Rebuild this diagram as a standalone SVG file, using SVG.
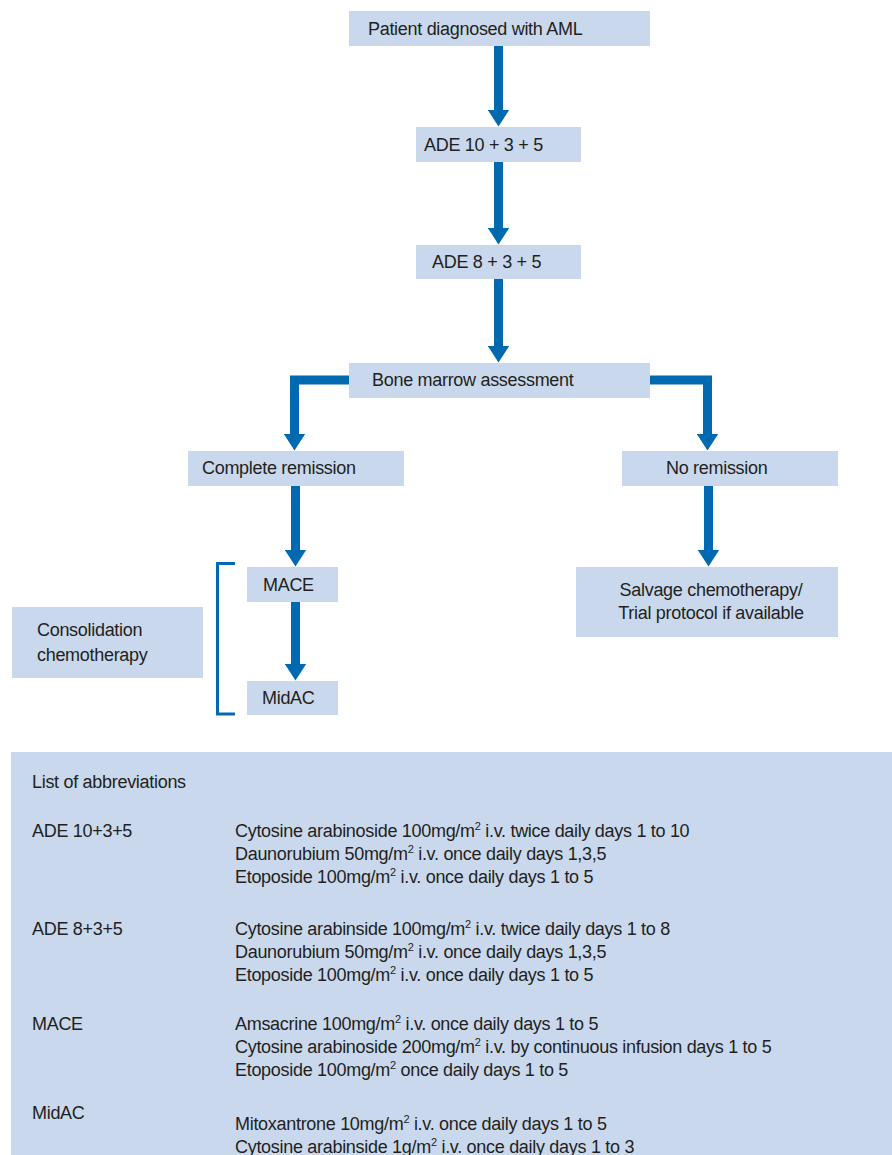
<svg xmlns="http://www.w3.org/2000/svg" width="892" height="1155" viewBox="0 0 892 1155">
<defs>
<style>
.box{fill:#C9D8ED}
.t{font-family:"Liberation Sans",Arial,sans-serif;font-size:18px;letter-spacing:-0.3px;fill:#231F20}
.s{font-size:11px}
.c{fill:none;stroke:#0069AF;stroke-width:9;stroke-linejoin:miter}
.br{fill:none;stroke:#0069AF;stroke-width:3}
</style>
<marker id="ah" viewBox="0 0 17 22" markerWidth="17" markerHeight="22" refX="0.5" refY="11" orient="auto" markerUnits="userSpaceOnUse">
<path d="M0,0 L17,11 L0,22 z" fill="#0069AF"/>
</marker>
</defs>
<rect width="892" height="1155" fill="#FFFFFF"/>
<g id="connectors">
<path class="c" d="M498.5,45 V110" marker-end="url(#ah)"/>
<path class="c" d="M498.5,162 V228" marker-end="url(#ah)"/>
<path class="c" d="M498.5,279 V346" marker-end="url(#ah)"/>
<path class="c" d="M349,380 H294.5 V434" marker-end="url(#ah)"/>
<path class="c" d="M650,380 H707.5 V434" marker-end="url(#ah)"/>
<path class="c" d="M295.5,486 V550" marker-end="url(#ah)"/>
<path class="c" d="M295.5,602 V664" marker-end="url(#ah)"/>
<path class="c" d="M708.5,486 V550" marker-end="url(#ah)"/>
<path class="br" d="M235,563.5 H217.5 V714 H235"/>
</g>
<g id="n-patient"><rect class="box" x="349" y="11" width="301" height="35"/><text class="t" x="368" y="35">Patient diagnosed with AML</text></g>
<g id="n-ade10"><rect class="box" x="416" y="127" width="165" height="35"/><text class="t" x="424" y="151">ADE 10 + 3 + 5</text></g>
<g id="n-ade8"><rect class="box" x="416" y="245" width="165" height="34"/><text class="t" x="432" y="268">ADE 8 + 3 + 5</text></g>
<g id="n-bone"><rect class="box" x="349" y="363" width="301" height="35"/><text class="t" x="372" y="386">Bone marrow assessment</text></g>
<g id="n-complete"><rect class="box" x="188" y="451" width="216" height="35"/><text class="t" x="202" y="474">Complete remission</text></g>
<g id="n-noremission"><rect class="box" x="622" y="451" width="216" height="35"/><text class="t" x="666" y="474">No remission</text></g>
<g id="n-mace"><rect class="box" x="247" y="567" width="91" height="35"/><text class="t" x="263" y="591">MACE</text></g>
<g id="n-midac"><rect class="box" x="247" y="681" width="91" height="34"/><text class="t" x="262" y="704">MidAC</text></g>
<g id="n-consolidation"><rect class="box" x="12" y="607" width="191" height="71"/><text class="t" x="37" y="636">Consolidation</text><text class="t" x="37" y="661">chemotherapy</text></g>
<g id="n-salvage"><rect class="box" x="576" y="567" width="262" height="70"/><text class="t" x="711" y="596" text-anchor="middle">Salvage chemotherapy/</text><text class="t" x="711" y="619" text-anchor="middle">Trial protocol if available</text></g>
<g id="abbreviations">
<rect class="box" x="11" y="752" width="881" height="403"/>
<text class="t" x="32" y="788">List of abbreviations</text>
<text class="t" x="32" y="837">ADE 10+3+5</text>
<text class="t" x="235" y="837">Cytosine arabinoside 100mg/m<tspan class="s" dy="-7">2</tspan><tspan dy="7"> i.v. twice daily days 1 to 10</tspan></text>
<text class="t" x="235" y="860">Daunorubium 50mg/m<tspan class="s" dy="-7">2</tspan><tspan dy="7"> i.v. once daily days 1,3,5</tspan></text>
<text class="t" x="235" y="883">Etoposide 100mg/m<tspan class="s" dy="-7">2</tspan><tspan dy="7"> i.v. once daily days 1 to 5</tspan></text>
<text class="t" x="32" y="935">ADE 8+3+5</text>
<text class="t" x="235" y="935">Cytosine arabinside 100mg/m<tspan class="s" dy="-7">2</tspan><tspan dy="7"> i.v. twice daily days 1 to 8</tspan></text>
<text class="t" x="235" y="958">Daunorubium 50mg/m<tspan class="s" dy="-7">2</tspan><tspan dy="7"> i.v. once daily days 1,3,5</tspan></text>
<text class="t" x="235" y="981">Etoposide 100mg/m<tspan class="s" dy="-7">2</tspan><tspan dy="7"> i.v. once daily days 1 to 5</tspan></text>
<text class="t" x="32" y="1030">MACE</text>
<text class="t" x="235" y="1030">Amsacrine 100mg/m<tspan class="s" dy="-7">2</tspan><tspan dy="7"> i.v. once daily days 1 to 5</tspan></text>
<text class="t" x="235" y="1053">Cytosine arabinoside 200mg/m<tspan class="s" dy="-7">2</tspan><tspan dy="7"> i.v. by continuous infusion days 1 to 5</tspan></text>
<text class="t" x="235" y="1076">Etoposide 100mg/m<tspan class="s" dy="-7">2</tspan><tspan dy="7"> once daily days 1 to 5</tspan></text>
<text class="t" x="32" y="1119">MidAC</text>
<text class="t" x="235" y="1130">Mitoxantrone 10mg/m<tspan class="s" dy="-7">2</tspan><tspan dy="7"> i.v. once daily days 1 to 5</tspan></text>
<text class="t" x="235" y="1153">Cytosine arabinside 1g/m<tspan class="s" dy="-7">2</tspan><tspan dy="7"> i.v. once daily days 1 to 3</tspan></text>
</g>
</svg>
